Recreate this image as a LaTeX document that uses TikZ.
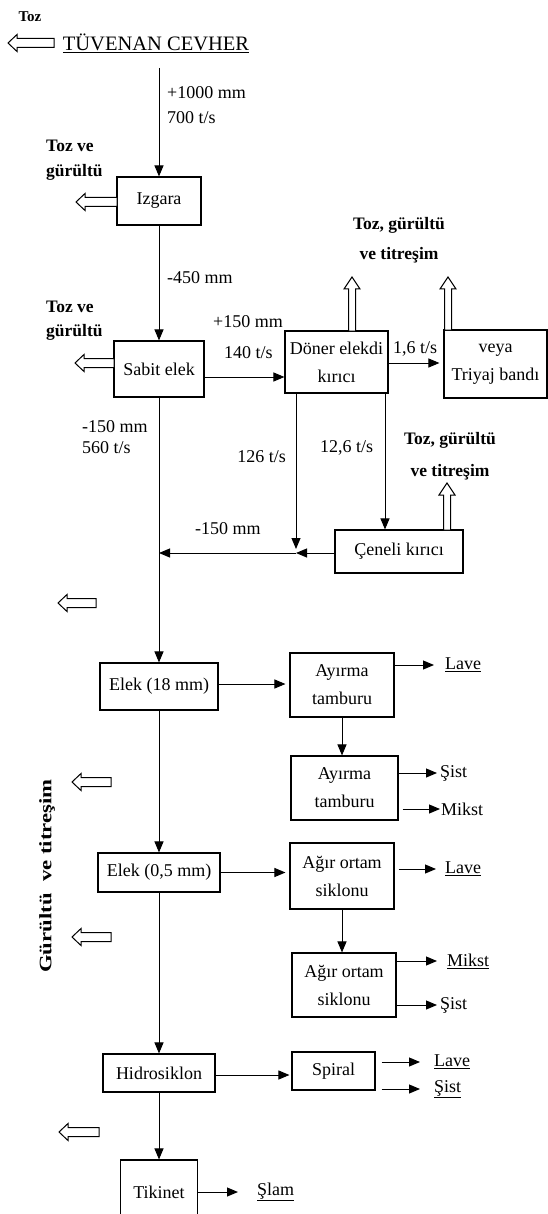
\documentclass[tikz,border=0pt]{standalone}
\usepackage{fontspec}
\setmainfont{Liberation Serif}
\usetikzlibrary{arrows.meta}
\newcommand\fs{\fontsize{18}{28}\selectfont}
\newcommand\fb{\fontsize{17.5}{26}\selectfont\bfseries}
\tikzset{
  box/.style={draw, line width=1.1pt, inner sep=0pt, align=center, font=\fs},
  arr/.style={line width=1pt, -{Triangle[length=11pt,width=9pt]}},
  lbl/.style={inner sep=0pt, font=\fs},
  blbl/.style={inner sep=0pt, font=\fb, align=center},
  hollow/.style={draw, line width=1pt, fill=white},
  pics/hl/.style={code={\draw[hollow] (0,0) -- (9,-8.5) -- (9,-4.5) -- (#1,-4.5) -- (#1,4.5) -- (9,4.5) -- (9,8.5) -- cycle;}},
  pics/hu/.style={code={\draw[hollow] (0,0) -- (8,12) -- (3.5,12) -- (3.5,#1) -- (-3.5,#1) -- (-3.5,12) -- (-8,12) -- cycle;}},
}
\begin{document}
\begin{tikzpicture}[x=1pt,y=-1pt]
\useasboundingbox (0,0) rectangle (548,1214);
\fill[white] (0,0) rectangle (548,1214);

% title
\node[inner sep=0pt, font=\fontsize{15}{17}\selectfont\bfseries] (toz0) at (30,17) {Toz};
\node[inner sep=0pt, font=\fontsize{20.5}{24}\selectfont] (tuv) at (156,43) {\underline{TÜVENAN CEVHER}};
\pic at (8,43) {hl=46};
\coordinate (t0) at (159,68);

% main column boxes
\node[box, minimum width=84, minimum height=48] (izgara) at (159,201) {Izgara};
\node[box, minimum width=90, minimum height=56] (sabit) at (159,369) {Sabit elek};
\node[box, minimum width=103, minimum height=62] (doner) at (336.5,362) {Döner elekdi\\kırıcı};
\node[box, minimum width=103, minimum height=68] (veya) at (495.5,364) {veya\\Triyaj bandı};
\node[box, minimum width=128, minimum height=43] (ceneli) at (399,551.5) {Çeneli kırıcı};
\node[box, minimum width=118, minimum height=47] (elek18) at (159,686.5) {Elek (18 mm)};
\node[box, minimum width=104, minimum height=64] (ayirma1) at (342,685) {Ayırma\\tamburu};
\node[box, minimum width=107, minimum height=64] (ayirma2) at (344.5,788) {Ayırma\\tamburu};
\node[box, minimum width=122, minimum height=39] (elek05) at (159,872.5) {Elek (0,5 mm)};
\node[box, minimum width=104, minimum height=66] (agir1) at (342,876) {Ağır ortam\\siklonu};
\node[box, minimum width=104, minimum height=64] (agir2) at (344,985) {Ağır ortam\\siklonu};
\node[box, minimum width=112, minimum height=38] (hidro) at (159,1073) {Hidrosiklon};
\node[box, minimum width=83, minimum height=38] (spiral) at (333.5,1071) {Spiral};
\node[box, minimum width=77, minimum height=65] (tikinet) at (159,1192.5) {Tikinet};

% labels
\node[lbl, anchor=west] (l1) at (167,93) {+1000 mm};
\node[lbl, anchor=west] (l2) at (167,118) {700 t/s};
\node[lbl, anchor=west] (l3) at (167,278) {-450 mm};
\node[lbl, anchor=west] (l4) at (213,322) {+150 mm};
\node[lbl, anchor=west] (l5) at (224,353) {140 t/s};
\node[lbl, anchor=west] (l6) at (393,349) {1,6 t/s};
\node[lbl, anchor=west] (l7) at (82,427) {-150 mm};
\node[lbl, anchor=west] (l8) at (82,448) {560 t/s};
\node[lbl, anchor=east] (l9) at (286,457) {126 t/s};
\node[lbl, anchor=west] (l10) at (320,448) {12,6 t/s};
\node[lbl, anchor=west] (l11) at (195,529) {-150 mm};

\node[blbl, anchor=west] (b1) at (46,146) {Toz ve};
\node[blbl, anchor=west] (b2) at (46,172) {gürültü};
\node[blbl, anchor=west] (b3) at (46,307) {Toz ve};
\node[blbl, anchor=west] (b4) at (46,332) {gürültü};
\node[blbl] (b5) at (399,225) {Toz, gürültü};
\node[blbl] (b6) at (399,255) {ve titreşim};
\node[blbl] (b7) at (450,440) {Toz, gürültü};
\node[blbl] (b8) at (450,472) {ve titreşim};
\node[blbl, rotate=90] (vt) at (47,876) {\scalebox{1.3}[1]{Gürültü\ \ ve titreşim}};

% output labels
\node[lbl, anchor=west] (lave1) at (445,665) {\underline{Lave}};
\node[lbl, anchor=west] (sist1) at (440,773) {Şist};
\node[lbl, anchor=west] (mikst1) at (441,809) {Mikst};
\node[lbl, anchor=west] (lave2) at (445,869) {\underline{Lave}};
\node[lbl, anchor=west] (mikst2) at (447,961) {\underline{Mikst}};
\node[lbl, anchor=west] (sist2) at (440,1005) {Şist};
\node[lbl, anchor=west] (lave3) at (434,1062) {\underline{Lave}};
\node[lbl, anchor=west] (sist3) at (434,1089) {\underline{Şist}};
\node[lbl, anchor=west] (slam) at (257,1192) {\underline{Şlam}};

% hollow arrows
\pic at (76,202) {hl=41};
\pic at (75,363) {hl=39};
\pic at (352,277) {hu=54};
\pic at (448,277) {hu=53};
\pic at (447,483) {hu=47};
\pic at (58,603) {hl=38};
\pic at (72,782) {hl=39};
\pic at (72,937) {hl=39};
\pic at (59,1132) {hl=40};

% connectors
\draw[arr] (t0) -- (t0 |- izgara.north);
\draw[arr] (izgara.south) -- (sabit.north);
\draw[arr] ([yshift=-8pt]sabit.east) -- ([yshift=-8pt]sabit.east -| doner.west);
\draw[arr, shorten >=4pt] ([yshift=-1pt]doner.east) -- ([yshift=-1pt]doner.east -| veya.west);
\coordinate (j) at (296,553);
\draw[arr, shorten >=4pt] (doner.south -| j) -- (j);
\draw[arr] ([xshift=48.5pt]doner.south) -- ([xshift=48.5pt]doner.south |- ceneli.north);
\draw[arr] (ceneli.west |- j) -- (j);
\draw[arr] (j) -- (j -| sabit.south);
\draw[line width=1pt] (sabit.south) -- (j -| sabit.south);
\draw[arr] (j -| sabit.south) -- (elek18.north);
\draw[arr] (elek18.south) -- (elek05.north);
\draw[arr] (elek05.south) -- (hidro.north);
\draw[arr] (hidro.south) -- (tikinet.north);

\draw[arr, shorten >=4pt] ([yshift=2.5pt]elek18.east) -- ([yshift=2.5pt]elek18.east -| ayirma1.west);
\draw[arr] (ayirma1.south) -- (ayirma1.south |- ayirma2.north);
\draw[arr, shorten >=4pt] (elek05.east) -- (elek05.east -| agir1.west);
\draw[arr] (agir1.south) -- (agir1.south |- agir2.north);
\draw[arr, shorten >=2pt] ([yshift=-2pt]hidro.east) -- ([yshift=-2pt]hidro.east -| spiral.west);

\draw[arr, shorten >=11pt] (lave1.west -| ayirma1.east) -- (lave1.west);
\draw[arr, shorten >=3pt] (sist1.west -| ayirma2.east) -- (sist1.west);
\draw[arr, shorten <=4pt, shorten >=1pt] (mikst1.west -| ayirma2.east) -- (mikst1.west);
\draw[arr, shorten <=4pt, shorten >=9pt] (lave2.west -| agir1.east) -- (lave2.west);
\draw[arr, shorten >=10pt] (mikst2.west -| agir2.east) -- (mikst2.west);
\draw[arr, shorten >=3pt] (sist2.west -| agir2.east) -- (sist2.west);
\draw[arr, shorten <=6pt, shorten >=14pt] (lave3.west -| spiral.east) -- (lave3.west);
\draw[arr, shorten <=6pt, shorten >=14pt] (sist3.west -| spiral.east) -- (sist3.west);
\draw[arr, shorten >=19pt] (slam.west -| tikinet.east) -- (slam.west);
\end{tikzpicture}
\end{document}
